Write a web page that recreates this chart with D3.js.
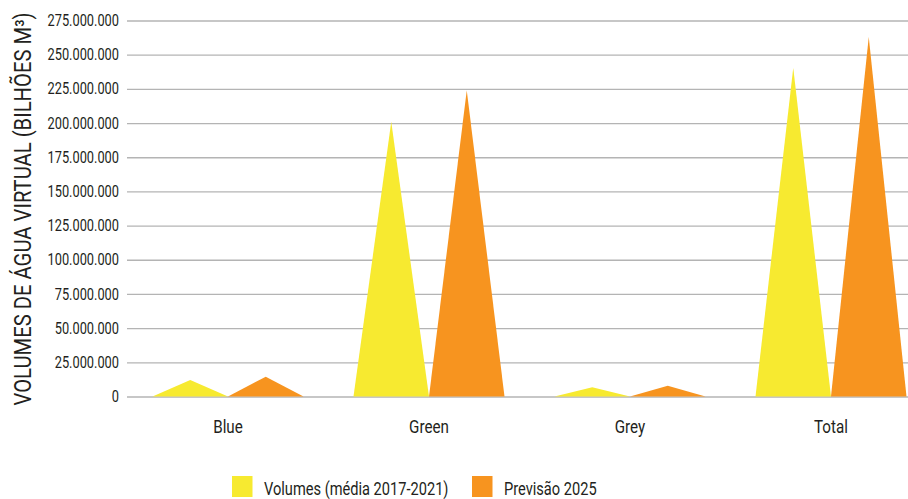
<!DOCTYPE html>
<html>
<head>
<meta charset="utf-8">
<script src="https://cdn.jsdelivr.net/npm/d3@7"></script>
<style>
  html, body { margin: 0; padding: 0; background: #ffffff; }
  svg { display: block; font-family: Roboto, "Noto Sans", sans-serif; }
</style>
</head>
<body>
<svg id="chart" width="908" height="499"></svg>
<script>
// Virtual water volumes by type
const categories = ["Blue", "Green", "Grey", "Total"];
const seriesNames = ["Volumes (média 2017-2021)", "Previsão 2025"];
const volumesMedia = [12100000, 200900000, 6700000, 240400000];
const previsao2025 = [14500000, 224000000, 7900000, 263000000];
const yTicks = [0, 25000000, 50000000, 75000000, 100000000, 125000000, 150000000,
                175000000, 200000000, 225000000, 250000000, 275000000];
const yTitle = "VOLUMES DE ÁGUA VIRTUAL (BILHÕES M³)";
const colors = ["#f7ea30", "#f7941f"];

const seriesValues = [volumesMedia, previsao2025];

const svg = d3.select("#chart");
const W = 908;
const FONT = "Roboto, \"Noto Sans\", sans-serif";
const CONDENSE = 0.8;   // horizontal squeeze for a condensed look

// squeeze glyphs horizontally while keeping the anchor point
function condense(sel, factor = CONDENSE) {
  sel.each(function () {
    const w = this.getComputedTextLength();
    d3.select(this)
      .attr("textLength", w * factor)
      .attr("lengthAdjust", "spacingAndGlyphs");
  });
}

const plot = { left: 127, top: 20.5, bottom: 396.5 };

const y = d3.scaleLinear()
  .domain([0, 275000000])
  .range([plot.bottom, plot.top]);

const x0 = d3.scaleBand()
  .domain(categories)
  .range([127.5, 931.5])
  .padding(0);

const x1 = d3.scaleBand()
  .domain(seriesNames)
  .range([25, x0.bandwidth() - 25])
  .padding(0);

// number format with dot as thousands separator
const fmt = d3.formatLocale({ decimal: ",", thousands: ".", grouping: [3], currency: ["", ""] }).format(",d");

// gridlines + tick labels
const yAxis = d3.axisLeft(y)
  .tickValues(yTicks)
  .tickSize(-(W - plot.left))
  .tickPadding(8)
  .tickFormat(fmt);

const gy = svg.append("g")
  .attr("transform", `translate(${plot.left},0)`)
  .call(yAxis);
gy.select(".domain").remove();
gy.selectAll(".tick line")
  .attr("stroke", "#b4b4b4")
  .attr("stroke-width", 1.3);
gy.selectAll(".tick text")
  .attr("fill", "#231f20")
  .style("font-size", "16px")
  .style("font-family", FONT)
  .call(condense);

// triangles
const tri = d3.line().x(d => d[0]).y(d => d[1]);
const groups = svg.append("g")
  .selectAll("g")
  .data(categories)
  .join("g")
  .attr("transform", d => `translate(${x0(d)},0)`);

groups.each(function (cat, ci) {
  const g = d3.select(this);
  seriesNames.forEach((s, si) => {
    const v = seriesValues[si][ci];
    const xs = x1(s);
    const bw = x1.bandwidth();
    g.append("path")
      .attr("d", tri([[xs, y(0)], [xs + bw / 2, y(v)], [xs + bw, y(0)]]) + "Z")
      .attr("fill", colors[si]);
  });
});

// category labels
svg.append("g")
  .selectAll("text")
  .data(categories)
  .join("text")
  .attr("x", d => x0(d) + x0.bandwidth() / 2)
  .attr("y", 433)
  .attr("text-anchor", "middle")
  .attr("fill", "#231f20")
  .style("font-size", "19px")
  .text(d => d)
  .call(condense);

// y title, squeezed along its reading direction
svg.append("text")
  .attr("transform", "translate(31,209) rotate(-90) scale(0.88,1)")
  .attr("text-anchor", "middle")
  .attr("fill", "#231f20")
  .style("font-size", "23px")
  .style("font-family", FONT)
  .text(yTitle);

// legend
const legendX = [232, 472];
const legend = svg.append("g")
  .selectAll("g")
  .data(seriesNames)
  .join("g")
  .attr("transform", (d, i) => `translate(${legendX[i]},476)`);
legend.append("rect")
  .attr("width", 20.5)
  .attr("height", 21)
  .attr("fill", (d, i) => colors[i]);
legend.append("text")
  .attr("x", 32)
  .attr("y", 19)
  .attr("fill", "#231f20")
  .style("font-size", "18.5px")
  .text(d => d)
  .call(condense, 0.79);
</script>
</body>
</html>
